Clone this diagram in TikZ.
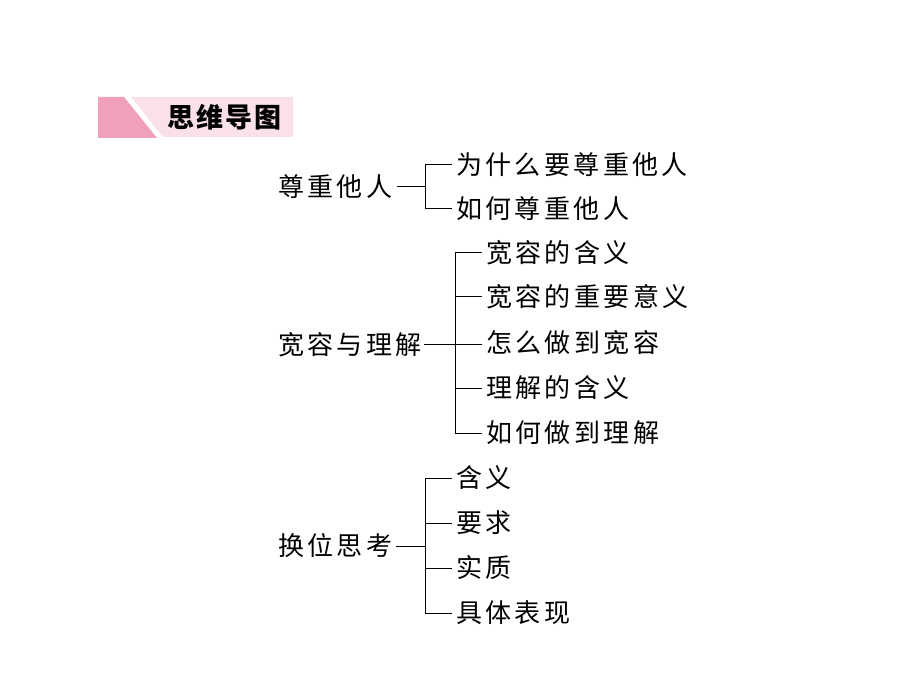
\documentclass[tikz,border=0pt]{standalone}
\usepackage{fontspec}
\newfontfamily\cjk[LetterSpace=13]{Noto Sans CJK SC}
\newfontfamily\cjkb[LetterSpace=8]{Noto Sans CJK SC Black}
\begin{document}
\begin{tikzpicture}[x=1pt,y=-1pt,
  lbl/.style={inner sep=0pt,anchor=west,font=\cjk\fontsize{26}{26}\selectfont,text height=22.9pt,text depth=3.1pt},
  ln/.style={draw=black,line width=1pt}]
\useasboundingbox (0,0) rectangle (920,700);
\fill[white] (0,0) rectangle (920,700);
% header
\fill[fill={rgb,255:red,250;green,224;blue,232}] (131,97) -- (293,97) -- (293,137) -- (163,137) -- cycle;
\fill[fill={rgb,255:red,240;green,160;blue,188}] (98,97) -- (124,97) -- (157,138) -- (98,138) -- cycle;
\node[inner sep=0pt,anchor=west,font=\cjkb\fontsize{27}{27}\selectfont] (hdr) at (167,117) {思维导图};
% group 1
\node[lbl] (a) at (278,187) {尊重他人};
\coordinate (av) at (425,187);
\node[lbl] (a1) at (456,165) {为什么要尊重他人};
\node[lbl] (a2) at (456,209) {如何尊重他人};
\draw[ln] (397,187) -- (av);
\draw[ln] (452,165) -| (425,209) -- (452,209);
% group 2
\node[lbl] (b) at (278,345) {宽容与理解};
\node[lbl] (b1) at (486,253) {宽容的含义};
\node[lbl] (b2) at (486,297) {宽容的重要意义};
\node[lbl] (b3) at (486,343) {怎么做到宽容};
\node[lbl] (b4) at (486,388) {理解的含义};
\node[lbl] (b5) at (486,433) {如何做到理解};
\draw[ln] (424,344) -- (482,344);
\draw[ln] (482,253) -| (455,433) -- (482,433);
\draw[ln] (455,297) -- (482,297);
\draw[ln] (455,388) -- (482,388);
% group 3
\node[lbl] (c) at (278,546) {换位思考};
\node[lbl] (c1) at (456,478) {含义};
\node[lbl] (c2) at (456,523) {要求};
\node[lbl] (c3) at (456,568) {实质};
\node[lbl] (c4) at (456,613) {具体表现};
\draw[ln] (396,546) -- (425,546);
\draw[ln] (452,478) -| (425,613) -- (452,613);
\draw[ln] (425,523) -- (452,523);
\draw[ln] (425,568) -- (452,568);
\end{tikzpicture}
\end{document}
